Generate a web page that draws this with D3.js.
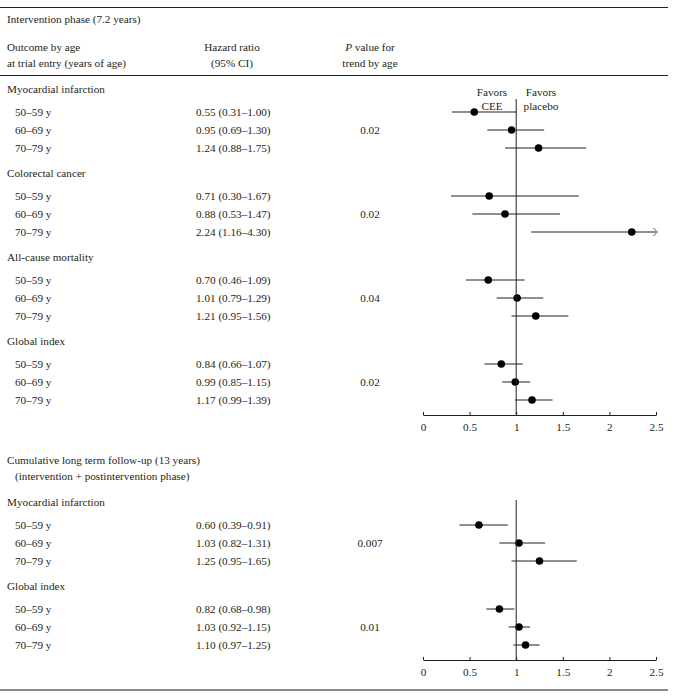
<!DOCTYPE html>
<html>
<head>
<meta charset="utf-8">
<script src="https://cdn.jsdelivr.net/npm/d3@7"></script>
<style>
  html, body { margin: 0; padding: 0; background: #fff; }
  text { font-family: "Liberation Serif", "Times New Roman", serif; font-size: 11.2px; fill: #231f20; }
</style>
</head>
<body>
<svg id="chart" width="676" height="697"></svg>
<script>
// ---------------- DATA ----------------
const sectionTitles = ["Intervention phase (7.2 years)", "Cumulative long term follow-up (13 years)"];
const sectionSubtitles = ["", "(intervention + postintervention phase)"];
const outcomes = ["Myocardial infarction", "Colorectal cancer", "All-cause mortality", "Global index",
                  "Myocardial infarction", "Global index"];
const outcomeSection = [0, 0, 0, 0, 1, 1];
const ageGroups = ["50–59 y", "60–69 y", "70–79 y"];
const hazardRatio = [
  [0.55, 0.95, 1.24],
  [0.71, 0.88, 2.24],
  [0.70, 1.01, 1.21],
  [0.84, 0.99, 1.17],
  [0.60, 1.03, 1.25],
  [0.82, 1.03, 1.10]
];
const ciLower = [
  [0.31, 0.69, 0.88],
  [0.30, 0.53, 1.16],
  [0.46, 0.79, 0.95],
  [0.66, 0.85, 0.99],
  [0.39, 0.82, 0.95],
  [0.68, 0.92, 0.97]
];
const ciUpper = [
  [1.00, 1.30, 1.75],
  [1.67, 1.47, 4.30],
  [1.09, 1.29, 1.56],
  [1.07, 1.15, 1.39],
  [0.91, 1.31, 1.65],
  [0.98, 1.15, 1.25]
];
const pTrend = ["0.02", "0.02", "0.04", "0.02", "0.007", "0.01"];
const xTicks = [0, 0.5, 1, 1.5, 2, 2.5];
const xTickLabels = ["0", "0.5", "1", "1.5", "2", "2.5"];

// ---------------- LAYOUT ----------------
const svg = d3.select("#chart");
const ink = "#231f20";
const x = d3.scaleLinear().domain([0, 2.5]).range([423, 656]);
const colLabel = 7, colAge = 15, colHR = 196, colHRHead = 232, colP = 370;
const rowGap = 18, headToRow = 23, rowToHead = 25, rowToAxis = 15;

function hr(y, color, w) {
  svg.append("line").attr("x1", 0).attr("x2", 668).attr("y1", y).attr("y2", y)
     .attr("stroke", color).attr("stroke-width", w);
}
function txt(xp, y, s, anchor) {
  return svg.append("text").attr("x", xp).attr("y", y).attr("dy", "0.35em")
     .attr("text-anchor", anchor || "start").text(s);
}
const fmt = d3.format(".2f");

hr(7.5, ink, 1);

// Section 0 header
txt(colLabel, 19, sectionTitles[0]);
txt(colLabel, 47, "Outcome by age");
txt(colLabel, 63, "at trial entry (years of age)");
txt(colHRHead, 47, "Hazard ratio", "middle");
txt(colHRHead, 63, "(95% CI)", "middle");
const pHead = txt(colP, 47, "", "middle");
pHead.append("tspan").attr("font-style", "italic").text("P");
pHead.append("tspan").text(" value for");
txt(colP, 63, "trend by age", "middle");
hr(75.5, ink, 1);

// Favors labels
txt(492, 92, "Favors", "middle");
txt(492, 106, "CEE", "middle");
txt(541, 92, "Favors", "middle");
txt(541, 106, "placebo", "middle");

const sectionStart = [89, 502];
const sectionLineTop = [99, 500];

[0, 1].forEach(sec => {
  if (sec === 1) {
    txt(colLabel, 460, sectionTitles[1]);
    txt(colAge, 476, sectionSubtitles[1]);
  }
  const idx = outcomes.map((o, i) => i).filter(i => outcomeSection[i] === sec);
  let y = sectionStart[sec];
  let lastRow = y;
  const g = svg.append("g");
  idx.forEach((oi, k) => {
    txt(colLabel, y, outcomes[oi]);
    ageGroups.forEach((a, j) => {
      const ry = y + headToRow + j * rowGap;
      lastRow = ry;
      txt(colAge, ry, a);
      txt(colHR, ry, fmt(hazardRatio[oi][j]) + " (" + fmt(ciLower[oi][j]) + "–" + fmt(ciUpper[oi][j]) + ")");
      if (j === 1) txt(colP, ry, pTrend[oi], "middle");
      const hiClamped = Math.min(ciUpper[oi][j], x.domain()[1]);
      g.append("line").attr("x1", x(ciLower[oi][j])).attr("x2", x(hiClamped))
        .attr("y1", ry).attr("y2", ry).attr("stroke", ink).attr("stroke-width", 1);
      if (ciUpper[oi][j] > x.domain()[1]) {
        const ax = x(x.domain()[1]) + 1.5;
        g.append("path").attr("d", `M${ax - 4},${ry - 4}L${ax},${ry}L${ax - 4},${ry + 4}`)
          .attr("fill", "none").attr("stroke", ink).attr("stroke-width", 0.8);
      }
      g.append("circle").attr("cx", x(hazardRatio[oi][j])).attr("cy", ry).attr("r", 3.8).attr("fill", "#000");
    });
    y = lastRow + rowToHead;
  });
  const axisY = lastRow + rowToAxis;
  // reference line at HR = 1
  svg.append("line").attr("x1", x(1)).attr("x2", x(1)).attr("y1", sectionLineTop[sec]).attr("y2", axisY)
     .attr("stroke", ink).attr("stroke-width", 1);
  const axis = d3.axisBottom(x).tickValues(xTicks).tickFormat((d, i) => xTickLabels[i])
     .tickSizeInner(-3).tickSizeOuter(0).tickPadding(8);
  const ag = svg.append("g").attr("transform", `translate(0,${axisY})`).call(axis);
  ag.select(".domain").attr("stroke", ink);
  ag.selectAll(".tick line").attr("stroke", ink);
  ag.selectAll(".tick text").attr("font-family", null).attr("font-size", null).attr("fill", ink);
  ag.attr("font-family", null).attr("font-size", null);
});

hr(690, "#8a8a8a", 2);
</script>
</body>
</html>
